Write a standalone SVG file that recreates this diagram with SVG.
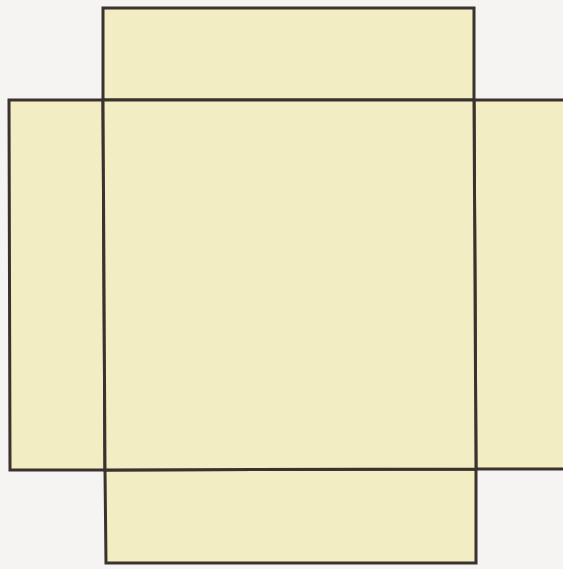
<svg xmlns="http://www.w3.org/2000/svg" width="563" height="569" viewBox="0 0 563 569">
<style>
.face{fill:#f2edc2;stroke:#3a322e;stroke-width:3;stroke-linejoin:miter}
</style>
<rect x="0" y="0" width="563" height="569" fill="#f6f4f3"/>
<g id="top"><polygon class="face" points="103,8 474,8 474,100 103,100"/></g>
<g id="left"><polygon class="face" points="9,100 103,100 105,470 10,470"/></g>
<g id="right"><polygon class="face" points="474,100 570,100 570,469 476,469"/></g>
<g id="bottom"><polygon class="face" points="105,470 476,469 476,563 106,563"/></g>
<g id="center"><polygon class="face" points="103,100 474,100 476,469 105,470"/></g>
</svg>
